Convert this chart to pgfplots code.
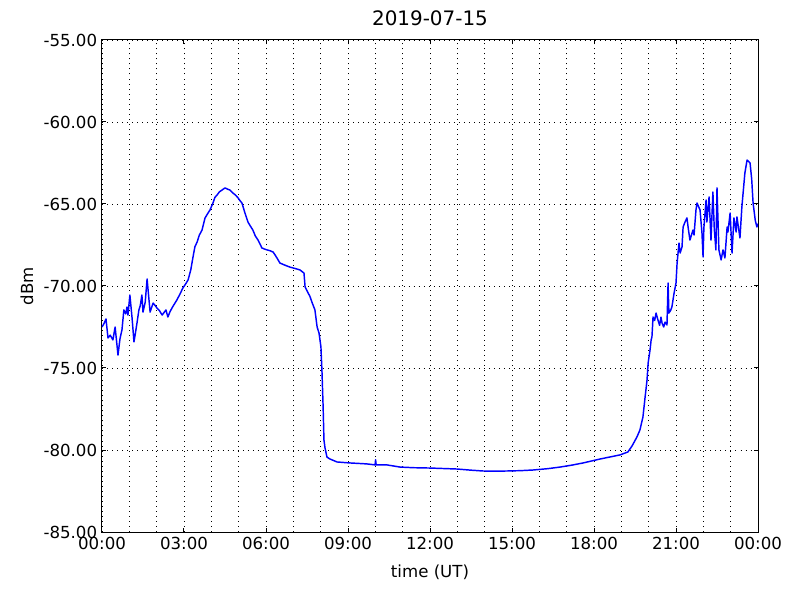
\documentclass[border=0pt]{standalone}
\usepackage{fontspec}
\setmainfont{DejaVu Sans}
\usepackage{pgfplots}
\pgfplotsset{compat=1.18}
\begin{document}
\begin{tikzpicture}
\path[use as bounding box] (-73.44bp,-48.96bp) rectangle (502.56bp,383.04bp);
\begin{axis}[
  scale only axis,
  width=472.32bp, height=354.24bp,
  xmin=0, xmax=24, ymin=-85, ymax=-55,
  xtick={0,3,...,24},
  xticklabels={00:00,03:00,06:00,09:00,12:00,15:00,18:00,21:00,00:00},
  minor xtick={1,2,4,5,7,8,10,11,13,14,16,17,19,20,22,23},
  ytick={-85,-80,...,-55},
  yticklabels={-85.00,-80.00,-75.00,-70.00,-65.00,-60.00,-55.00},
  xmajorgrids, xminorgrids, ymajorgrids,
  grid style={black, line width=0.4bp, dash pattern=on 0.72bp off 2.9bp},
  major grid style={black, line width=0.4bp, dash pattern=on 0.72bp off 2.9bp},
  minor grid style={black, line width=0.4bp, dash pattern=on 0.72bp off 2.9bp},
  tick align=inside,
  major tick length=2.88bp,
  minor tick length=0pt,
  axis line style={line width=0.72bp},
  every tick/.style={black, line width=0.72bp},
  tick label style={font=\fontsize{12}{14}\selectfont},
  label style={font=\fontsize{12}{14}\selectfont},
  title style={font=\fontsize{14.4}{17}\selectfont, at={(axis description cs:0.5,1.0282)}, anchor=center},
  title={2019-07-15},
  xlabel={time (UT)},
  ylabel={dBm},
  xlabel style={at={(axis description cs:0.5,-0.0813)}, anchor=center},
  ylabel style={at={(axis description cs:-0.1143,0.5)}, anchor=center},
]
\addplot[color={rgb,255:red,0;green,0;blue,255}, line width=1.05bp, line join=round] coordinates {
(0.00,-72.50) (0.07,-72.30) (0.146,-72.01) (0.22,-73.17) (0.30,-73.00) (0.40,-73.29) (0.48,-72.50)
(0.585,-74.21) (0.66,-73.20) (0.73,-72.68) (0.80,-71.46) (0.87,-71.70) (0.915,-71.28) (0.95,-71.77)
(1.02,-70.55) (1.10,-71.95) (1.17,-73.41) (1.22,-72.90) (1.28,-72.26) (1.35,-71.46) (1.40,-71.20)
(1.46,-70.55) (1.50,-71.59) (1.58,-71.00) (1.65,-69.57) (1.76,-71.59) (1.87,-71.04) (1.95,-71.20)
(2.01,-71.34) (2.10,-71.50) (2.20,-71.77) (2.34,-71.46) (2.41,-71.89) (2.48,-71.60) (2.56,-71.34)
(2.74,-70.85) (2.85,-70.50) (2.96,-70.12) (3.05,-69.90) (3.15,-69.63) (3.25,-69.00) (3.33,-68.23)
(3.40,-67.60) (3.48,-67.32) (3.56,-66.90) (3.66,-66.59) (3.77,-65.85) (3.86,-65.60) (3.95,-65.37)
(4.06,-64.94) (4.13,-64.60) (4.21,-64.45) (4.30,-64.25) (4.39,-64.15) (4.50,-64.02) (4.60,-64.10)
(4.68,-64.15) (4.79,-64.33) (4.88,-64.45) (4.98,-64.63) (5.05,-64.80) (5.12,-64.94) (5.23,-65.55)
(5.34,-66.10) (5.43,-66.35) (5.52,-66.59) (5.61,-66.95) (5.71,-67.20) (5.85,-67.68) (5.95,-67.75)
(6.04,-67.80) (6.15,-67.85) (6.26,-67.93) (6.33,-68.10) (6.40,-68.29) (6.51,-68.60) (6.65,-68.70)
(6.77,-68.78) (6.88,-68.85) (6.99,-68.90) (7.10,-68.95) (7.24,-69.02) (7.39,-69.21) (7.43,-70.06)
(7.54,-70.43) (7.60,-70.60) (7.68,-70.98) (7.79,-71.46) (7.87,-72.50) (7.94,-72.87) (8.01,-73.72)
(8.05,-75.30) (8.09,-77.38) (8.12,-79.39) (8.16,-79.88) (8.23,-80.43) (8.34,-80.55) (8.60,-80.73)
(9.07,-80.79) (9.40,-80.82) (9.70,-80.85) (9.99,-80.91) (10.01,-80.60) (10.03,-80.91) (10.43,-80.91)
(10.90,-81.04) (11.40,-81.08) (12.00,-81.10) (12.50,-81.13) (12.99,-81.16) (13.50,-81.23) (13.94,-81.28)
(14.40,-81.29) (14.82,-81.28) (15.30,-81.26) (15.77,-81.22) (16.30,-81.14) (16.76,-81.04) (17.20,-80.92)
(17.60,-80.79) (18.22,-80.55) (18.95,-80.30) (19.24,-80.12) (19.39,-79.76) (19.57,-79.21) (19.68,-78.78)
(19.79,-77.99) (19.87,-76.77) (19.94,-75.73) (19.98,-74.70) (20.05,-73.90) (20.09,-73.29) (20.12,-73.11)
(20.16,-71.89) (20.22,-72.10) (20.27,-71.65) (20.34,-72.07) (20.40,-72.40) (20.45,-71.90) (20.49,-72.26)
(20.55,-72.50) (20.60,-72.20) (20.67,-72.38) (20.71,-69.82) (20.74,-71.65) (20.80,-71.50) (20.85,-71.28)
(20.93,-70.43) (21.00,-69.82) (21.04,-68.60) (21.11,-67.38) (21.15,-67.99) (21.22,-67.62) (21.26,-66.40)
(21.33,-66.10) (21.40,-65.85) (21.45,-66.50) (21.51,-67.20) (21.62,-66.59) (21.66,-66.89) (21.73,-65.37)
(21.77,-64.94) (21.88,-65.37) (21.95,-66.77) (21.99,-68.23) (22.02,-66.46) (22.10,-64.76) (22.13,-66.10)
(22.21,-64.57) (22.28,-67.20) (22.35,-64.27) (22.40,-66.50) (22.46,-67.80) (22.50,-64.02) (22.57,-67.80)
(22.61,-68.10) (22.65,-68.41) (22.72,-67.80) (22.79,-68.29) (22.87,-66.40) (22.90,-66.71) (22.98,-65.55)
(23.05,-67.99) (23.12,-65.85) (23.20,-66.71) (23.23,-65.79) (23.34,-67.07) (23.41,-65.18) (23.52,-63.11)
(23.60,-62.32) (23.71,-62.50) (23.77,-63.50) (23.82,-64.94) (23.90,-66.00) (23.96,-66.40) (24.00,-66.20)
};
\end{axis}
\end{tikzpicture}
\end{document}
